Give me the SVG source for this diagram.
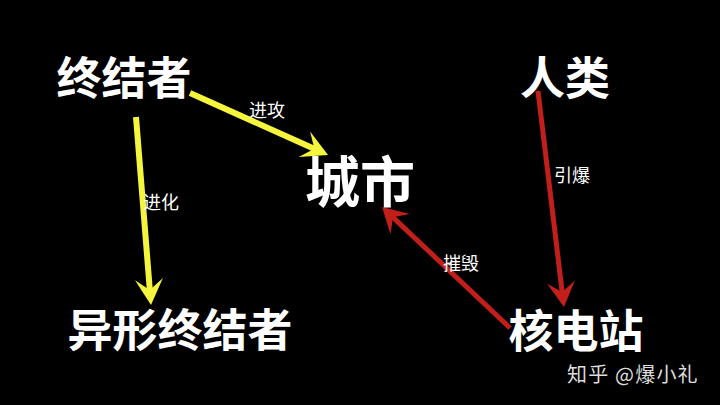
<svg xmlns="http://www.w3.org/2000/svg" width="720" height="405" viewBox="0 0 720 405">
<style>
.node{font-family:"Noto Sans CJK SC","Noto Sans",sans-serif;font-weight:700;fill:#ffffff;text-anchor:middle}
.lbl{font-family:"Noto Sans CJK SC","Noto Sans",sans-serif;font-weight:400;fill:#ffffff;font-size:18px;text-anchor:middle}
.y{stroke:#f4f53c;stroke-width:6;fill:none}
.r{stroke:#c21f1a;stroke-width:5;fill:none}
</style>
<defs>
<marker id="ay" markerUnits="userSpaceOnUse" viewBox="-28 -16 30 32" markerWidth="30" markerHeight="32" refX="-14" refY="0" orient="auto">
<path d="M0,0 L-26,-14 L-15,0 L-26,14 Z" fill="#f4f53c"/>
</marker>
<marker id="ar" markerUnits="userSpaceOnUse" viewBox="-28 -16 30 32" markerWidth="30" markerHeight="32" refX="-14" refY="0" orient="auto">
<path d="M0,0 L-25,-14 L-15,0 L-25,14 Z" fill="#c21f1a"/>
</marker>
</defs>
<rect width="720" height="405" fill="#000000"/>
<g id="connectors">
<line class="y" x1="190" y1="93" x2="315.3" y2="149.2" marker-end="url(#ay)"/>
<line class="y" x1="136" y1="117" x2="149.9" y2="291" marker-end="url(#ay)"/>
<line class="r" x1="538" y1="91" x2="562.3" y2="293.1" marker-end="url(#ar)"/>
<line class="r" x1="510" y1="328" x2="392.2" y2="216.6" marker-end="url(#ar)"/>
<text class="lbl" x="267" y="117">进攻</text>
<text class="lbl" x="161" y="209">进化</text>
<text class="lbl" x="572" y="182">引爆</text>
<text class="lbl" x="461" y="270">摧毁</text>
</g>
<g id="terminator"><text class="node" x="124" y="95" font-size="45">终结者</text></g>
<g id="city"><text class="node" x="360" y="202" font-size="55">城市</text></g>
<g id="human"><text class="node" x="565" y="95" font-size="45">人类</text></g>
<g id="alien-terminator"><text class="node" x="180" y="347" font-size="45">异形终结者</text></g>
<g id="nuclear-plant"><text class="node" x="576" y="348" font-size="45">核电站</text></g>
<text x="567" y="382" font-family="Noto Sans CJK SC,Noto Sans,sans-serif" font-size="20" letter-spacing="1.2" fill="#dddddd">知乎 @爆小礼</text>
</svg>
